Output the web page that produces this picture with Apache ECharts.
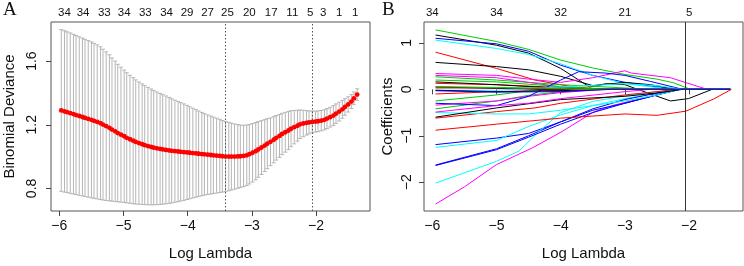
<!DOCTYPE html>
<html>
<head>
<meta charset="utf-8">
<script src="https://cdn.jsdelivr.net/npm/echarts@6/dist/echarts.min.js"></script>
<style>
  html, body { margin: 0; padding: 0; background: #fff; }
  #chart { width: 744px; height: 266px; }
</style>
</head>
<body>
<div id="chart"></div>
<script>
// ---- panel A: cross-validation curve ----
const logLambda = [
  -5.97, -5.92, -5.88, -5.83, -5.78, -5.74, -5.69, -5.64, -5.60, -5.55,
  -5.50, -5.46, -5.41, -5.36, -5.32, -5.27, -5.22, -5.18, -5.13, -5.09,
  -5.04, -4.99, -4.95, -4.90, -4.85, -4.81, -4.76, -4.71, -4.67, -4.62,
  -4.57, -4.53, -4.48, -4.43, -4.39, -4.34, -4.29, -4.25, -4.20, -4.15,
  -4.11, -4.06, -4.01, -3.97, -3.92, -3.87, -3.83, -3.78, -3.74, -3.69,
  -3.64, -3.60, -3.55, -3.50, -3.46, -3.41, -3.36, -3.32, -3.27, -3.22,
  -3.18, -3.13, -3.08, -3.04, -2.99, -2.94, -2.90, -2.85, -2.80, -2.76,
  -2.71, -2.66, -2.62, -2.57, -2.53, -2.48, -2.43, -2.39, -2.34, -2.29,
  -2.25, -2.20, -2.15, -2.11, -2.06, -2.01, -1.97, -1.92, -1.87, -1.83,
  -1.78, -1.73, -1.69, -1.64, -1.59, -1.55, -1.50, -1.45, -1.41, -1.36
];
const cvMean = [
  1.290, 1.284, 1.279, 1.273, 1.267, 1.261, 1.255, 1.249, 1.243, 1.237,
  1.231, 1.225, 1.218, 1.210, 1.201, 1.191, 1.181, 1.170, 1.159, 1.148,
  1.138, 1.128, 1.118, 1.109, 1.100, 1.092, 1.085, 1.078, 1.072, 1.066,
  1.061, 1.056, 1.052, 1.048, 1.045, 1.042, 1.039, 1.036, 1.034, 1.032,
  1.030, 1.028, 1.026, 1.024, 1.022, 1.020, 1.018, 1.016, 1.014, 1.012,
  1.010, 1.008, 1.006, 1.004, 1.002, 1.000, 1.000, 1.000, 1.000, 1.001,
  1.002, 1.004, 1.008, 1.015, 1.024, 1.034, 1.045, 1.057, 1.069, 1.081,
  1.093, 1.106, 1.118, 1.130, 1.142, 1.153, 1.164, 1.175, 1.185, 1.194,
  1.203, 1.208, 1.212, 1.215, 1.218, 1.220, 1.222, 1.226, 1.231, 1.239,
  1.248, 1.258, 1.270, 1.283, 1.297, 1.312, 1.328, 1.346, 1.366, 1.390
];
const cvSE = [
  0.508, 0.507, 0.505, 0.504, 0.502, 0.500, 0.498, 0.496, 0.494, 0.492,
  0.490, 0.487, 0.484, 0.480, 0.474, 0.467, 0.459, 0.450, 0.441, 0.432,
  0.424, 0.416, 0.409, 0.402, 0.396, 0.390, 0.384, 0.379, 0.374, 0.369,
  0.364, 0.359, 0.354, 0.349, 0.344, 0.339, 0.333, 0.327, 0.321, 0.315,
  0.309, 0.303, 0.296, 0.289, 0.282, 0.275, 0.268, 0.262, 0.256, 0.250,
  0.245, 0.240, 0.235, 0.230, 0.225, 0.220, 0.215, 0.210, 0.205, 0.200,
  0.196, 0.193, 0.190, 0.187, 0.184, 0.180, 0.175, 0.169, 0.163, 0.157,
  0.150, 0.145, 0.140, 0.135, 0.130, 0.125, 0.120, 0.113, 0.105, 0.097,
  0.090, 0.083, 0.077, 0.072, 0.068, 0.066, 0.065, 0.064, 0.063, 0.063,
  0.062, 0.062, 0.061, 0.059, 0.056, 0.052, 0.048, 0.044, 0.040, 0.036
];
const lambdaMin = -3.41;
const lambda1se = -2.06;
const topPosA = [-5.92, -5.63, -5.30, -4.99, -4.66, -4.33, -4.01, -3.69, -3.38, -3.04, -2.70, -2.37, -2.09, -1.89, -1.64, -1.39];
const topDfA = [34, 34, 33, 34, 33, 34, 29, 27, 25, 20, 17, 11, 5, 3, 1, 1];
const ticksA = [0.8, 1.2, 1.6];

// ---- panel B: coefficient paths, [logLambda, coef] ----
const xTicks = [-6, -5, -4, -3, -2];
const topDfB = [34, 34, 32, 21, 5];
const ticksB = [-2, -1, 0, 1];
const blackPaths = [
  [[-5.95, 1.17], [-5.0, 0.95], [-4.5, 0.78], [-4.0, 0.45], [-3.55, 0.05], [-3.3, 0.12], [-3.0, 0.10], [-2.6, -0.10], [-2.29, -0.25], [-2.01, -0.20], [-1.64, 0], [-1.36, 0]],
  [[-5.95, 0.58], [-5.0, 0.49], [-4.5, 0.42], [-4.0, 0.28], [-3.5, 0.08], [-3.0, 0.15], [-2.6, 0.10], [-2.2, 0], [-1.36, 0]],
  [[-5.95, 0.16], [-5.0, 0.10], [-4.0, 0.02], [-3.6, 0], [-1.36, 0]],
  [[-5.95, 0.05], [-5.0, 0.02], [-4.3, 0], [-1.36, 0]],
  [[-5.95, -0.60], [-5.0, -0.40], [-4.0, -0.22], [-3.0, -0.15], [-2.5, -0.08], [-2.1, 0], [-1.36, 0]],
  [[-5.95, -0.02], [-5.0, -0.05], [-4.0, -0.03], [-3.4, 0], [-1.36, 0]]
];
const redPaths = [
  [[-5.95, 0.80], [-5.0, 0.45], [-4.4, 0.20], [-3.8, 0.05], [-3.3, 0], [-1.36, 0]],
  [[-5.95, 0.13], [-5.0, 0.10], [-4.0, 0.04], [-3.2, 0], [-1.36, 0]],
  [[-5.95, -0.10], [-5.0, -0.05], [-4.0, -0.02], [-3.6, 0], [-1.36, 0]],
  [[-5.95, -0.62], [-5.0, -0.48], [-4.4, -0.40], [-4.0, -0.30], [-3.0, -0.12], [-2.5, -0.05], [-2.2, 0], [-1.36, 0]],
  [[-5.95, -0.88], [-5.0, -0.75], [-4.0, -0.62], [-3.0, -0.53], [-2.5, -0.56], [-2.05, -0.47], [-1.62, -0.21], [-1.34, 0]],
  [[-5.95, 0.03], [-5.0, 0.03], [-4.0, 0.01], [-3.5, 0], [-1.36, 0]]
];
const greenPaths = [
  [[-5.95, 1.28], [-5.0, 1.03], [-4.5, 0.86], [-4.0, 0.63], [-3.5, 0.46], [-3.0, 0.32], [-2.5, 0.22], [-2.24, 0.14], [-1.98, 0], [-1.36, 0]],
  [[-5.95, 0.27], [-5.0, 0.20], [-4.0, 0.10], [-3.0, 0.03], [-2.6, 0], [-1.36, 0]],
  [[-5.95, -0.25], [-5.0, -0.12], [-4.5, -0.03], [-4.0, 0.03], [-3.5, 0.02], [-3.0, 0], [-1.36, 0]],
  [[-5.95, -0.42], [-5.0, -0.25], [-4.5, -0.13], [-4.0, -0.05], [-3.5, 0], [-1.36, 0]],
  [[-5.95, 0.20], [-5.0, 0.16], [-4.0, 0.06], [-3.4, 0], [-1.36, 0]],
  [[-5.95, 0.06], [-5.0, 0.04], [-4.0, 0.02], [-3.8, 0], [-1.36, 0]]
];
const bluePaths = [
  [[-5.95, 1.10], [-5.0, 0.98], [-4.5, 0.82], [-4.0, 0.52], [-3.5, 0.30], [-3.0, 0.15], [-2.5, 0.05], [-2.1, 0], [-1.36, 0]],
  [[-5.95, -1.19], [-5.0, -1.05], [-4.5, -0.95], [-4.0, -0.70], [-3.5, -0.45], [-3.0, -0.30], [-2.5, -0.12], [-2.14, 0], [-1.36, 0]],
  [[-5.95, -1.63], [-5.0, -1.28], [-4.5, -1.00], [-4.0, -0.70], [-3.5, -0.42], [-3.0, -0.22], [-2.5, -0.08], [-2.14, 0], [-1.36, 0]],
  [[-5.95, -1.64], [-5.0, -1.30], [-4.5, -1.03], [-4.0, -0.75], [-3.5, -0.50], [-3.0, -0.30], [-2.5, -0.12], [-2.14, 0], [-1.36, 0]],
  [[-5.95, -0.30], [-5.0, -0.35], [-4.5, -0.15], [-4.0, 0.20], [-3.72, 0.38], [-3.3, 0.35], [-3.0, 0.30], [-2.6, 0.17], [-2.1, 0], [-1.36, 0]],
  [[-5.95, -0.03], [-5.0, -0.06], [-4.0, -0.05], [-3.2, 0], [-1.36, 0]]
];
const cyanPaths = [
  [[-5.95, 1.06], [-5.0, 0.88], [-4.5, 0.75], [-4.0, 0.55], [-3.5, 0.30], [-3.0, 0.12], [-2.5, 0.04], [-2.2, 0], [-1.36, 0]],
  [[-5.95, -1.25], [-5.0, -1.10], [-4.5, -0.80], [-4.0, -0.55], [-3.5, -0.35], [-3.0, -0.20], [-2.5, -0.08], [-2.14, 0], [-1.36, 0]],
  [[-5.95, -2.02], [-5.0, -1.55], [-4.65, -1.33], [-4.34, -0.91], [-4.0, -0.50], [-3.5, -0.26], [-3.0, -0.14], [-2.5, -0.05], [-2.14, 0], [-1.36, 0]],
  [[-5.95, -0.50], [-5.0, -0.53], [-4.5, -0.53], [-4.0, -0.45], [-3.5, -0.35], [-3.0, -0.25], [-2.5, -0.12], [-2.14, 0], [-1.36, 0]],
  [[-5.95, -0.02], [-5.0, -0.02], [-4.0, 0.05], [-3.0, 0.12], [-2.5, 0.08], [-2.1, 0], [-1.36, 0]]
];
const magentaPaths = [
  [[-5.95, -2.47], [-5.5, -2.10], [-5.0, -1.62], [-4.44, -1.26], [-3.98, -0.91], [-3.49, -0.49], [-3.2, -0.35], [-2.76, -0.20], [-2.4, -0.08], [-2.14, 0], [-1.36, 0]],
  [[-5.95, 0.34], [-5.0, 0.30], [-4.5, 0.22], [-4.0, 0.15], [-3.5, 0.25], [-3.0, 0.40], [-2.9, 0.35], [-2.29, 0.25], [-1.72, 0], [-1.36, 0]],
  [[-5.95, 0.30], [-5.0, 0.25], [-4.5, 0.15], [-4.0, 0.05], [-3.5, 0], [-1.36, 0]],
  [[-5.95, -0.34], [-5.0, -0.25], [-4.5, -0.15], [-4.0, -0.07], [-3.3, 0], [-1.36, 0]],
  [[-5.95, -0.49], [-5.0, -0.35], [-4.5, -0.30], [-4.0, -0.20], [-3.0, -0.05], [-2.6, 0], [-1.36, 0]]
];

const sans = "Liberation Sans, Arial, sans-serif";
const minus = (v) => String(v).replace("-", "\u2212");

const chart = echarts.init(document.getElementById("chart"));

// R's matplot palette, cycled by variable index
const groups = [
  { paths: blackPaths, color: "#000000" },
  { paths: redPaths, color: "#FF0000" },
  { paths: greenPaths, color: "#00CD00" },
  { paths: bluePaths, color: "#0000FF" },
  { paths: cyanPaths, color: "#00FFFF" },
  { paths: magentaPaths, color: "#FF00FF" },
];
const pathSeries = [];
for (let j = 0; j < 6; j++) {
  groups.forEach((g) => {
    if (g.paths[j]) {
      pathSeries.push({
        type: "line",
        xAxisIndex: 2,
        yAxisIndex: 1,
        data: g.paths[j],
        showSymbol: false,
        silent: true,
        lineStyle: { color: g.color, width: 1 },
      });
    }
  });
}

const bottomAxis = (gridIndex) => ({
  type: "value",
  gridIndex: gridIndex,
  min: -6.13,
  max: -1.16,
  name: "Log Lambda",
  nameLocation: "middle",
  nameGap: 35,
  nameTextStyle: { fontFamily: sans, fontSize: 15, color: "#111" },
  axisLine: { show: false },
  splitLine: { show: false },
  axisTick: { customValues: xTicks, length: 5, lineStyle: { color: "#444" } },
  axisLabel: {
    customValues: xTicks,
    formatter: minus,
    fontFamily: sans,
    fontSize: 14,
    color: "#111",
    margin: 8,
  },
});

const topAxis = (gridIndex, pos, labels) => ({
  type: "value",
  gridIndex: gridIndex,
  position: "top",
  min: -6.13,
  max: -1.16,
  axisLine: { show: false },
  axisTick: { show: false },
  splitLine: { show: false },
  axisLabel: {
    customValues: pos,
    formatter: (v) => {
      let k = 0;
      pos.forEach((p, i) => { if (Math.abs(p - v) < Math.abs(pos[k] - v)) k = i; });
      return String(labels[k]);
    },
    fontFamily: sans,
    fontSize: 11.5,
    color: "#111",
    margin: 3,
  },
});

const leftAxis = (gridIndex, min, max, ticks, name, labelMargin, nameGap) => ({
  type: "value",
  gridIndex: gridIndex,
  min: min,
  max: max,
  name: name,
  nameLocation: "middle",
  nameRotate: 90,
  nameGap: nameGap,
  nameTextStyle: { fontFamily: sans, fontSize: 15, color: "#111" },
  axisLine: { show: false },
  splitLine: { show: false },
  axisTick: { customValues: ticks, length: 5, lineStyle: { color: "#444" } },
  axisLabel: {
    customValues: ticks,
    rotate: 90,
    formatter: minus,
    fontFamily: sans,
    fontSize: 14,
    color: "#111",
    margin: labelMargin,
  },
});

const option = {
  animation: false,
  backgroundColor: "#ffffff",
  grid: [
    { left: 51, top: 22, width: 319, height: 193, show: true, borderColor: "#555", borderWidth: 1 },
    { left: 424, top: 22, width: 319, height: 192, show: true, borderColor: "#555", borderWidth: 1 },
  ],
  xAxis: [
    bottomAxis(0),
    topAxis(0, topPosA, topDfA),
    bottomAxis(1),
    topAxis(1, xTicks, topDfB),
  ],
  yAxis: [
    leftAxis(0, 0.658, 1.846, ticksA, "Binomial Deviance", 12, 34),
    leftAxis(1, -2.62, 1.45, ticksB, "Coefficients", 10, 29),
  ],
  graphic: [
    { type: "text", left: 3, top: 1, style: { text: "A", font: "19px 'Liberation Serif', 'Times New Roman', serif", fill: "#111" } },
    { type: "text", left: 382, top: 1, style: { text: "B", font: "19px 'Liberation Serif', 'Times New Roman', serif", fill: "#111" } },
  ],
  series: [
    {
      type: "custom",
      xAxisIndex: 0,
      yAxisIndex: 0,
      silent: true,
      data: logLambda.map((x, i) => [x, cvMean[i] - cvSE[i], cvMean[i] + cvSE[i]]),
      renderItem: (params, api) => {
        const lo = api.coord([api.value(0), api.value(1)]);
        const hi = api.coord([api.value(0), api.value(2)]);
        const w = 2;
        const style = { stroke: "#b5b5b5", lineWidth: 1 };
        return {
          type: "group",
          children: [
            { type: "line", shape: { x1: lo[0], y1: lo[1], x2: hi[0], y2: hi[1] }, style: style },
            { type: "line", shape: { x1: lo[0] - w, y1: lo[1], x2: lo[0] + w, y2: lo[1] }, style: style },
            { type: "line", shape: { x1: hi[0] - w, y1: hi[1], x2: hi[0] + w, y2: hi[1] }, style: style },
          ],
        };
      },
    },
    {
      type: "scatter",
      xAxisIndex: 0,
      yAxisIndex: 0,
      silent: true,
      symbolSize: 4.8,
      itemStyle: { color: "#FF0000", opacity: 1 },
      data: logLambda.map((x, i) => [x, cvMean[i]]),
      markLine: {
        silent: true,
        symbol: "none",
        label: { show: false },
        lineStyle: { type: [1.5, 2], color: "#555", width: 1 },
        data: [{ xAxis: lambdaMin }, { xAxis: lambda1se }],
      },
    },
    ...pathSeries,
    {
      type: "line",
      xAxisIndex: 2,
      yAxisIndex: 1,
      data: [],
      markLine: {
        silent: true,
        symbol: "none",
        label: { show: false },
        lineStyle: { type: "solid", color: "#333", width: 1 },
        data: [{ xAxis: lambda1se }],
      },
    },
  ],
};

chart.setOption(option);
</script>
</body>
</html>
